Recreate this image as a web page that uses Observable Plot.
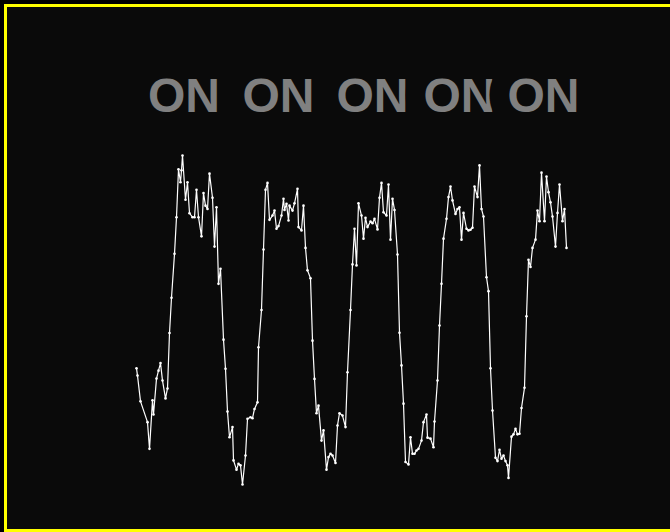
<!DOCTYPE html>
<html>
<head>
<meta charset="utf-8">
<script src="https://cdn.jsdelivr.net/npm/d3@7"></script>
<script src="https://cdn.jsdelivr.net/npm/@observablehq/plot@0.6"></script>
<style>
  html, body { margin: 0; padding: 0; background: #000; overflow: hidden; width: 670px; height: 532px; }
  #frame { position: absolute; left: 4px; top: 4px; width: 700px; height: 522px; border: 3px solid #ffff00; background: #0a0a0a; }
  #chart svg { display: block; }
</style>
</head>
<body>
<div id="frame"><div id="chart"></div></div>
<script>
// time (s) and signal level (%)
const times = [0.1,0.2,0.5,1.2,1.4,1.7,1.8,2.1,2.3,2.5,2.7,3.0,3.2,3.4,3.6,3.9,4.1,4.3,4.5,4.6,4.7,5.0,5.2,5.4,5.7,5.9,6.1,6.3,6.6,6.8,7.0,7.2,7.4,7.7,7.9,8.1,8.3,8.5,8.8,9.0,9.2,9.4,9.7,9.8,10.1,10.3,10.5,10.7,11.0,11.2,11.5,11.7,11.9,12.2,12.3,12.6,12.8,13.0,13.2,13.4,13.7,13.9,14.1,14.3,14.6,14.8,14.9,15.1,15.3,15.4,15.7,15.9,16.2,16.3,16.6,16.8,17.0,17.2,17.5,17.7,17.9,18.1,18.3,18.6,18.8,19.1,19.3,19.5,19.7,20.0,20.2,20.4,20.7,21.0,21.2,21.5,21.7,21.9,22.1,22.3,22.6,22.8,23.0,23.2,23.5,23.7,23.9,24.2,24.4,24.6,24.8,25.1,25.3,25.5,25.7,25.9,26.2,26.4,26.6,26.8,27.0,27.3,27.5,27.7,27.9,28.1,28.3,28.6,28.8,29.1,29.2,29.5,29.8,29.9,30.2,30.4,30.6,30.8,31.1,31.3,31.5,31.7,32.0,32.2,32.4,32.6,32.8,33.1,33.3,33.5,33.7,33.9,34.2,34.4,34.6,34.8,35.1,35.3,35.5,35.7,36.0,36.2,36.4,36.6,36.8,37.0,37.2,37.3,37.6,37.8,38.0,38.2,38.4,38.6,38.9,39.1,39.3,39.5,39.7,40.0,40.2,40.4,40.6,40.9,41.1,41.3,41.5,41.7,42.0,42.2,42.4,42.7,42.9,43.1];
const values = [35.5,33.3,25.5,19.2,11.1,25.8,21.5,32.4,34.8,37.1,31.8,26.4,29.4,46.2,56.9,70.2,81.3,95.8,91.9,95.5,100,86.6,91.9,82.5,81.3,81.3,89.6,81.3,75.5,88.6,84.8,83.8,94.5,87.2,72.4,84.3,61.1,65.7,44.2,35.4,22.4,14.6,17.7,7.6,4.8,6.6,6.1,0.3,9.1,20.2,20.7,20.4,23.2,25.2,41.9,53.2,71.5,89.6,91.7,80.5,81.8,83.3,77.8,78.6,81.8,86.9,83.5,85.4,80.3,84.8,83.3,85.5,89.9,78.3,77.3,84.8,72.0,65.2,62.8,43.9,32.3,21.9,24.2,13.6,16.7,4.8,8.6,9.6,9.1,6.8,18.2,21.9,21.2,17.7,34.3,53.2,67.0,77.8,66.7,85.5,81.8,74.8,81.1,78.3,80.0,79.5,80.8,77.6,87.2,91.7,82.8,81.8,91.2,74.5,86.9,83.5,70.0,46.3,36.4,24.8,7.1,6.4,14.6,9.6,9.6,10.6,11.1,13.6,19.2,21.5,14.5,14.2,11.6,19.4,31.8,48.5,61.1,74.8,80.8,87.4,90.6,86.4,82.3,83.8,84.3,74.5,82.6,77.8,77.3,77.5,78.1,90.6,87.4,97.0,83.8,81.5,63.1,58.9,35.5,22.7,8.4,7.4,10.8,8.1,9.1,7.4,6.1,2.3,14.8,15.5,17.2,15.5,15.7,23.5,29.6,51.3,68.4,66.2,72.0,74.5,83.3,80.1,94.8,80.1,93.6,88.9,85.8,81.5,72.4,82.6,91.2,80.1,83.8,72.0];
const labelTimes = [4.85, 14.3, 23.7, 32.4, 40.8];
const labelTexts = ["ON", "ON", "ON", "ON", "ON"];
const labelLevel = 113.3;

const series = times.map((t, i) => ({t, v: values[i]}));
const labels = labelTimes.map((t, i) => ({t, text: labelTexts[i], v: labelLevel}));

const chart = Plot.plot({
  width: 663,
  height: 522,
  marginLeft: 128,
  marginRight: 103,
  marginTop: 148,
  marginBottom: 44,
  style: {background: "#0a0a0a", color: "#fff", overflow: "visible"},
  x: {domain: [0, 43.2], axis: null},
  y: {domain: [0, 100], axis: null},
  marks: [
    Plot.text(labels, {
      x: "t", y: "v", text: "text",
      lineAnchor: "bottom",
      fill: "#808080",
      stroke: "#0a0a0a",
      strokeWidth: 40,
      fontSize: 48,
      fontWeight: "bold",
      fontFamily: "Liberation Sans, Arial, sans-serif"
    }),
    Plot.line(series, {x: "t", y: "v", stroke: "#ffffff", strokeWidth: 1.2}),
    Plot.dot(series, {x: "t", y: "v", r: 1.3, fill: "#ffffff", stroke: "none"})
  ]
});
document.getElementById("chart").appendChild(chart);
</script>
</body>
</html>
